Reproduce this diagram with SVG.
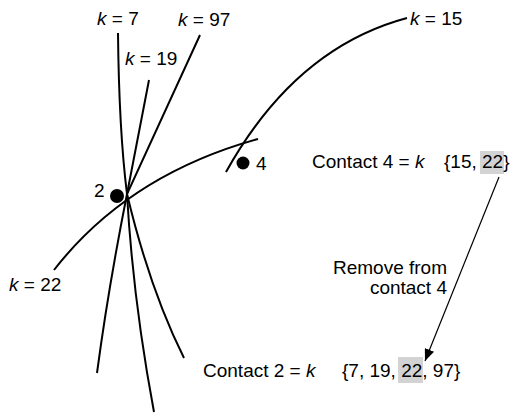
<svg xmlns="http://www.w3.org/2000/svg" width="515" height="415" viewBox="0 0 515 415">
<defs>
<style>
.t{font-family:"Liberation Sans",Arial,sans-serif;font-size:19px;fill:#000}
.i{font-style:italic}
.c{fill:none;stroke:#000;stroke-width:2;stroke-linecap:butt}
.a{fill:none;stroke:#000;stroke-width:1.2}
.hl{fill:#d3d3d3}
</style>
<marker id="ah" viewBox="0 0 12 10" refX="12" refY="5" markerWidth="12" markerHeight="10" markerUnits="userSpaceOnUse" orient="auto">
<path d="M0,0 L12,5 L0,10 Z" fill="#000"/>
</marker>
</defs>
<rect width="515" height="415" fill="#fff"/>
<g id="connectors">
<path id="k7" class="c" d="M118,33 Q119,130 127,194 Q133,300 154,412"/>
<path id="k19" class="c" d="M149,80 L127,194 Q108,290 97,373"/>
<path id="k97" class="c" d="M200,35 L127,194 Q150,290 184,358"/>
<path id="k22" class="c" d="M54,270 Q128,175 258,139"/>
<path id="k15" class="c" d="M407,18 Q295,48 226,172"/>
<path id="move" class="a" d="M499,177 L425,361" marker-end="url(#ah)"/>
</g>
<g id="labels">
<text class="t" x="97" y="25"><tspan class="i">k</tspan> = 7</text>
<text class="t" x="178" y="26"><tspan class="i">k</tspan> = 97</text>
<text class="t" x="125" y="65"><tspan class="i">k</tspan> = 19</text>
<text class="t" x="410" y="25"><tspan class="i">k</tspan> = 15</text>
<text class="t" x="9" y="291"><tspan class="i">k</tspan> = 22</text>
</g>
<g id="node2">
<circle cx="117" cy="196" r="7"/>
<text class="t" x="94" y="197">2</text>
</g>
<g id="node4">
<circle cx="243" cy="163" r="6.5"/>
<text class="t" x="256" y="170">4</text>
</g>
<g id="contact4">
<rect class="hl" x="480" y="151" width="24" height="23"/>
<text class="t" x="312" y="168">Contact 4 = <tspan class="i">k</tspan></text>
<text class="t" x="444" y="168">{15, 22}</text>
</g>
<g id="note">
<text class="t" x="447" y="274" text-anchor="end">Remove from</text>
<text class="t" x="447" y="294" text-anchor="end">contact 4</text>
</g>
<g id="contact2">
<rect class="hl" x="398" y="357" width="25" height="26"/>
<text class="t" x="203" y="377">Contact 2 = <tspan class="i">k</tspan></text>
<text class="t" x="342" y="377">{7, 19, 22, 97}</text>
</g>
</svg>
